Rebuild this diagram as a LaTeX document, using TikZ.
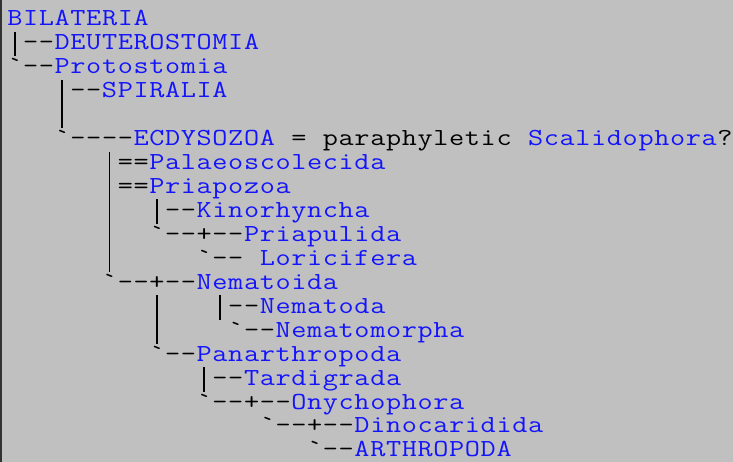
\documentclass[tikz,border=0pt]{standalone}
\usepackage{xcolor}
\usepackage{graphicx}

\definecolor{pagegray}{RGB}{192,192,192}
\definecolor{edgegray}{RGB}{50,50,50}
\definecolor{linkblue}{RGB}{20,20,252}

% fixed character cell of the monospaced tree; glyphs widened to fill it
\newlength\cw
\setlength\cw{15.78pt}
\def\cellsend{cellsend}
\def\cells#1{\cellsstep#1\cellsend}
\def\cellsstep#1{\ifx\cellsend#1\else\makebox[\cw]{\scalebox{1.2}[1]{#1}}\expandafter\cellsstep\fi}
% tall vertical bar so that stacked bars join into one line
\newcommand\vbar{\rule[-6.5pt]{1.5pt}{24.6pt}}

\tikzset{
  cell/.style={inner sep=0pt, outer sep=0pt, anchor=base west,
    font=\ttfamily\fontsize{24.5}{25}\selectfont},
  taxon/.style={cell, text=linkblue},
  glyphs/.style={cell, text=black}
}

% \tseg{name}{column}{row}{style}{characters}
\newcommand\tseg[5]{\node[#4] (#1) at ({7+#2*15.78},{-26-(#3-1)*23.94}) {\cells{#5}};}

\begin{document}
\begin{tikzpicture}[x=1pt,y=1pt]
  \useasboundingbox (0,0) rectangle (733,-462);
  \fill[pagegray] (0,0) rectangle (733,-462);
  \fill[edgegray] (0,0) rectangle (2,-462);

  \tseg{bil}{0}{1}{taxon}{BILATERIA}
  \tseg{p2}{0}{2}{glyphs}{\vbar--}
  \tseg{deu}{3}{2}{taxon}{DEUTEROSTOMIA}
  \tseg{p3}{0}{3}{glyphs}{\textasciigrave--}
  \tseg{pro}{3}{3}{taxon}{Protostomia}
  \tseg{p4}{3}{4}{glyphs}{\vbar--}
  \tseg{spi}{6}{4}{taxon}{SPIRALIA}
  \tseg{p5}{3}{5}{glyphs}{\vbar}
  \tseg{p6}{3}{6}{glyphs}{\textasciigrave----}
  \tseg{ecd}{8}{6}{taxon}{ECDYSOZOA}
  \tseg{eq}{18}{6}{glyphs}{=}
  \tseg{par}{20}{6}{glyphs}{paraphyletic}
  \tseg{sca}{33}{6}{taxon}{Scalidophora}
  \tseg{qm}{45}{6}{glyphs}{?}
  \tseg{p7}{6}{7}{glyphs}{\vbar==}
  \tseg{pal}{9}{7}{taxon}{Palaeoscolecida}
  \tseg{p8}{6}{8}{glyphs}{\vbar==}
  \tseg{pri}{9}{8}{taxon}{Priapozoa}
  \tseg{p9a}{6}{9}{glyphs}{\vbar}
  \tseg{p9b}{9}{9}{glyphs}{\vbar--}
  \tseg{kin}{12}{9}{taxon}{Kinorhyncha}
  \tseg{p10a}{6}{10}{glyphs}{\vbar}
  \tseg{p10b}{9}{10}{glyphs}{\textasciigrave--+--}
  \tseg{pru}{15}{10}{taxon}{Priapulida}
  \tseg{p11a}{6}{11}{glyphs}{\vbar}
  \tseg{p11b}{12}{11}{glyphs}{\textasciigrave--}
  \tseg{lor}{16}{11}{taxon}{Loricifera}
  \tseg{p12}{6}{12}{glyphs}{\textasciigrave--+--}
  \tseg{nem}{12}{12}{taxon}{Nematoida}
  \tseg{p13a}{9}{13}{glyphs}{\vbar}
  \tseg{p13b}{13}{13}{glyphs}{\vbar--}
  \tseg{nma}{16}{13}{taxon}{Nematoda}
  \tseg{p14a}{9}{14}{glyphs}{\vbar}
  \tseg{p14b}{14}{14}{glyphs}{\textasciigrave--}
  \tseg{nmo}{17}{14}{taxon}{Nematomorpha}
  \tseg{p15}{9}{15}{glyphs}{\textasciigrave--}
  \tseg{pan}{12}{15}{taxon}{Panarthropoda}
  \tseg{p16}{12}{16}{glyphs}{\vbar--}
  \tseg{tar}{15}{16}{taxon}{Tardigrada}
  \tseg{p17}{12}{17}{glyphs}{\textasciigrave--+--}
  \tseg{ony}{18}{17}{taxon}{Onychophora}
  \tseg{p18}{16}{18}{glyphs}{\textasciigrave--+--}
  \tseg{din}{22}{18}{taxon}{Dinocaridida}
  \tseg{p19}{19}{19}{glyphs}{\textasciigrave--}
  \tseg{art}{22}{19}{taxon}{ARTHROPODA}
\end{tikzpicture}
\end{document}
